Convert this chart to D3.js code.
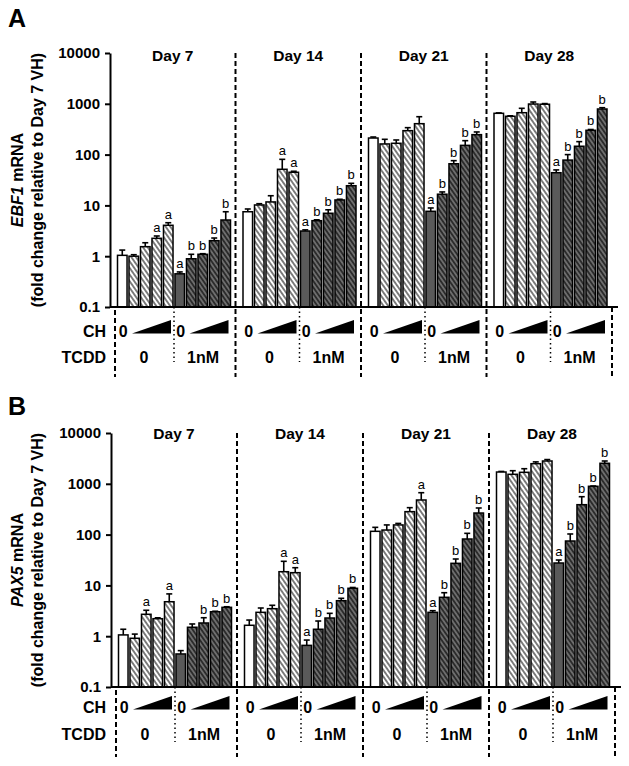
<!DOCTYPE html>
<html><head><meta charset="utf-8">
<script src="https://cdn.jsdelivr.net/npm/d3@7"></script>
<style>body{margin:0;background:#fff}</style></head>
<body><svg id="c" width="629" height="766"></svg>
<script>
const days = ["Day 7", "Day 14", "Day 21", "Day 28"];
const yTicks = [0.1, 1, 10, 100, 1000, 10000];
const barTypes = ["open","hatch","hatch","hatch","hatch","solid","darkHatch","darkHatch","darkHatch","darkHatch"];
const tcddLabels = ["0", "1nM"];
const chZero = "0";

// EBF1 (panel A): per day, 10 bars (TCDD 0: CH 0..4, TCDD 1nM: CH 0..4)
const ebf1Means = [
  [1.04, 1.0, 1.54, 2.25, 4.06, 0.45, 0.89, 1.09, 2.02, 5.16],
  [7.5, 10.2, 11.7, 51.4, 44.9, 3.13, 5.0, 7.0, 12.8, 24.4],
  [212, 162, 167, 296, 406, 7.65, 16.6, 66, 152, 247],
  [650, 568, 668, 990, 980, 44, 78, 146, 301, 790]
];
const ebf1Errs = [
  [0.28, 0.07, 0.30, 0.25, 0.50, 0.04, 0.20, 0.03, 0.26, 2.34],
  [1.0, 0.6, 3.8, 29.3, 2.1, 0.17, 0.2, 1.2, 0.4, 2.8],
  [10, 38, 27, 43, 151, 1.25, 1.8, 10, 36, 32],
  [12, 12, 147, 95, 30, 6, 22, 34, 11, 48]
];
const ebf1Letters = [
  ["","","","a","a","a","b","b","b","b"],
  ["","","","a","a","a","b","b","b","b"],
  ["","","","","","a","b","b","b","b"],
  ["","","","","","a","b","b","b","b"]
];

// PAX5 (panel B)
const pax5Means = [
  [1.06, 0.91, 2.70, 2.21, 4.77, 0.447, 1.50, 1.82, 3.03, 3.70],
  [1.64, 2.95, 3.48, 18.6, 17.8, 0.66, 1.37, 2.28, 5.0, 8.77],
  [116, 123, 155, 283, 480, 2.95, 5.83, 27.2, 81.9, 266],
  [1706, 1538, 1683, 2488, 2811, 27.6, 74.8, 388, 893, 2535]
];
const pax5Errs = [
  [0.31, 0.19, 0.54, 0.09, 2.03, 0.073, 0.24, 0.49, 0.07, 0.1],
  [0.44, 0.64, 0.58, 11.2, 4.5, 0.18, 0.62, 0.54, 0.57, 0.33],
  [23, 32, 11, 56, 188, 0.23, 1.35, 5.9, 24, 68],
  [44, 272, 298, 212, 189, 4, 28, 169, 12, 276]
];
const pax5Letters = [
  ["","","a","","a","","","b","b","b"],
  ["","","","a","a","a","b","b","b","b"],
  ["","","","","a","a","b","b","b","b"],
  ["","","","","","a","b","b","b","b"]
];

const FONT = "'Liberation Sans', Arial, Helvetica, sans-serif";
const svg = d3.select("#c").style("font-family", FONT);
svg.append("rect").attr("width", 629).attr("height", 766).attr("fill", "#fff");

const defs = svg.append("defs");
function hatch(id, bg, w, sw) {
  const p = defs.append("pattern").attr("id", id).attr("patternUnits", "userSpaceOnUse")
    .attr("width", w).attr("height", 10).attr("patternTransform", "rotate(-35)");
  p.append("rect").attr("width", w).attr("height", 10).attr("fill", bg);
  p.append("line").attr("x1", w / 2).attr("x2", w / 2).attr("y1", -1).attr("y2", 11)
    .attr("stroke", "#000").attr("stroke-width", sw);
}
hatch("hl", "#fff", 3.8, 1);
hatch("hd", "#6e6e6e", 3.6, 1.1);
const fills = {open: "#fff", hatch: "url(#hl)", solid: "#5a5a5a", darkHatch: "url(#hd)"};

const panels = [
  {letter: "A", gene: "EBF1", means: ebf1Means, errs: ebf1Errs, letters: ebf1Letters,
   top: 53, bottom: 307, x0: 110, x1: 612, letterY: 27, dayY: 61, chY: 337, tcddY: 363, dashEnd: 377, dotEnd: 362},
  {letter: "B", gene: "PAX5", means: pax5Means, errs: pax5Errs, letters: pax5Letters,
   top: 433, bottom: 687, x0: 111, x1: 615, letterY: 415, dayY: 439, chY: 713, tcddY: 740, dashEnd: 757, dotEnd: 742}
];

panels.forEach(P => {
  const g = svg.append("g");
  const y = d3.scaleLog().domain([0.1, 10000]).range([P.bottom, P.top]);
  const xDay = d3.scaleBand().domain(days).range([P.x0, P.x1]);
  const dw = xDay.bandwidth();
  const xBar = d3.scaleBand().domain(d3.range(10)).range([7.5, 120.5]).paddingInner(0.17).paddingOuter(0);
  const bw = xBar.bandwidth();

  // panel letter
  g.append("text").attr("x", 8).attr("y", P.letterY).attr("font-size", 25).attr("font-weight", "bold").text(P.letter);

  // y axis
  const ax = g.append("g").attr("transform", `translate(${P.x0},0)`)
    .call(d3.axisLeft(y).tickValues(yTicks).tickFormat(d => String(d)).tickSize(5).tickSizeOuter(0).tickPadding(5));
  ax.select(".domain").attr("stroke-width", 2);
  ax.selectAll(".tick line").attr("stroke-width", 2);
  ax.selectAll(".tick text").attr("font-size", 15).attr("font-weight", "bold").attr("font-family", FONT);

  // y label
  const midY = (P.top + P.bottom) / 2;
  const l1 = g.append("text").attr("transform", `translate(23,${midY}) rotate(-90)`)
    .attr("text-anchor", "middle").attr("font-size", 16).attr("font-weight", "bold");
  l1.append("tspan").attr("font-style", "italic").text(P.gene);
  l1.append("tspan").text(" mRNA");
  g.append("text").attr("transform", `translate(43,${midY}) rotate(-90)`)
    .attr("text-anchor", "middle").attr("font-size", 16).attr("font-weight", "bold")
    .text("(fold change relative to Day 7 VH)");

  // day labels
  g.selectAll(".day").data(days).join("text")
    .attr("x", d => xDay(d) + dw / 2).attr("y", P.dayY).attr("text-anchor", "middle")
    .attr("font-size", 15.5).attr("font-weight", "bold").text(d => d);

  // bars
  days.forEach((d, di) => {
    const bx = i => xDay(d) + xBar(i);
    const bars = d3.range(10).map(i => ({i, m: P.means[di][i], e: P.errs[di][i], l: P.letters[di][i], t: barTypes[i]}));
    // error bars
    bars.forEach(b => {
      const cx = bx(b.i) + bw / 2;
      const yt = y(b.m + b.e);
      g.append("line").attr("x1", cx).attr("x2", cx).attr("y1", y(b.m)).attr("y2", yt).attr("stroke", "#000").attr("stroke-width", 1.6);
      g.append("line").attr("x1", cx - 3).attr("x2", cx + 3).attr("y1", yt).attr("y2", yt).attr("stroke", "#000").attr("stroke-width", 1.6);
      if (b.l) g.append("text").attr("x", cx).attr("y", yt - 4).attr("text-anchor", "middle").attr("font-size", 13).attr("fill", "#000").text(b.l);
    });
    bars.forEach(b => {
      g.append("rect").attr("x", bx(b.i)).attr("y", y(b.m)).attr("width", bw).attr("height", P.bottom - y(b.m))
        .attr("fill", fills[b.t]).attr("stroke", "#000").attr("stroke-width", 1.5);
    });

    // CH row
    [0, 5].forEach((s, si) => {
      g.append("text").attr("x", bx(s) + bw / 2 + 1).attr("y", P.chY).attr("text-anchor", "middle")
        .attr("font-size", 16).attr("font-weight", "bold").text(chZero);
      const xa = bx(s + 1) + 3, xb = bx(s + 4) + bw - 2;
      g.append("path").attr("d", `M${xa},${P.chY - 3.5}L${xb},${P.chY - 3.5}L${xb},${P.chY - 17}Z`).attr("fill", "#000");
      g.append("text").attr("x", xDay(d) + (si ? 93 : 34)).attr("y", P.tcddY).attr("text-anchor", "middle")
        .attr("font-size", 16).attr("font-weight", "bold").text(tcddLabels[si]);
    });
    // dotted subgroup separator
    g.append("line").attr("x1", xDay(d) + 64).attr("x2", xDay(d) + 64).attr("y1", P.bottom).attr("y2", P.dotEnd)
      .attr("stroke", "#000").attr("stroke-width", 1.5).attr("stroke-dasharray", "1.5,3");
    // dashed day separator
    const sx = xDay(d) + dw;
    g.append("line").attr("x1", sx).attr("x2", sx).attr("y1", di < 3 ? P.top : P.bottom).attr("y2", P.dashEnd)
      .attr("stroke", "#000").attr("stroke-width", 2).attr("stroke-dasharray", "5,3");
  });
  // left dashed line
  g.append("line").attr("x1", P.x0 + 5).attr("x2", P.x0 + 5).attr("y1", P.bottom + 3).attr("y2", P.dashEnd)
    .attr("stroke", "#000").attr("stroke-width", 2).attr("stroke-dasharray", "5,3");

  // x axis line
  g.append("line").attr("x1", P.x0).attr("x2", P.x1 + 6).attr("y1", P.bottom).attr("y2", P.bottom)
    .attr("stroke", "#000").attr("stroke-width", 2);

  // row titles
  g.append("text").attr("x", 106).attr("y", P.chY).attr("text-anchor", "end").attr("font-size", 16).attr("font-weight", "bold").text("CH");
  g.append("text").attr("x", 106).attr("y", P.tcddY).attr("text-anchor", "end").attr("font-size", 16).attr("font-weight", "bold").text("TCDD");
});
</script></body></html>
